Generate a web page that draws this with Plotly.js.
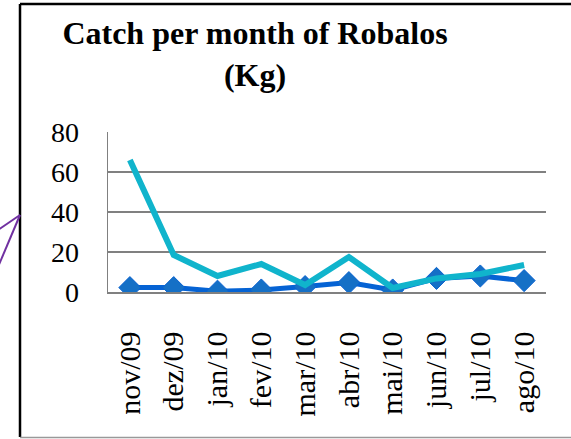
<!DOCTYPE html>
<html>
<head>
<meta charset="utf-8">
<script src="https://cdn.plot.ly/plotly-3.0.1.min.js"></script>
<style>
html,body{margin:0;padding:0;background:#fff;}
#chart{width:571px;height:439px;}
</style>
</head>
<body>
<div id="chart"></div>
<script>
// Data
var months = ["nov/09","dez/09","jan/10","fev/10","mar/10","abr/10","mai/10","jun/10","jul/10","ago/10"];
var seriesDark = [2.2, 2.2, 0.4, 1.0, 2.7, 4.7, 1.0, 6.8, 8.0, 5.7];
var seriesCyan = [66, 18.5, 8, 14, 3.5, 17.5, 2, 6.8, 9, 13.5];
var yTicks = [0, 20, 40, 60, 80];
var yTickText = ["0", "20", "40", "60", "80"];

var W = 571, H = 439;
var M = {l:108, r:25, t:132, b:147};
var PW = W - M.l - M.r, PH = H - M.t - M.b;
function px(x){ return (x - M.l) / PW; }
function py(y){ return (H - M.b - y) / PH; }

var font = "Liberation Serif, Times New Roman, serif";

var traces = [
  {
    x: months, y: seriesDark, type: "scatter", mode: "lines+markers",
    name: "Series 1",
    line: {color: "#0563D4", width: 5},
    marker: {symbol: "diamond", size: 17, color: "#1570C6", line: {color: "#0A62D0", width: 1}}
  },
  {
    x: months, y: seriesCyan, type: "scatter", mode: "lines",
    name: "Series 2",
    line: {color: "#10B4CC", width: 6}
  }
];

var layout = {
  width: W, height: H,
  margin: M,
  paper_bgcolor: "#fff", plot_bgcolor: "#fff",
  showlegend: false,
  font: {family: font, color: "#000"},
  title: {
    text: "<b>Catch per month of Robalos<br>(Kg)</b>",
    font: {family: font, size: 32, color: "#000"},
    x: 255 / W, xanchor: "center", xref: "container",
    y: 1 - 44 / H, yanchor: "top", yref: "container"
  },
  xaxis: {
    type: "category",
    range: [-0.5, 9.5],
    showgrid: false, zeroline: false,
    showline: true, linecolor: "#808080", linewidth: 1.5,
    ticks: "", tickangle: -90,
    tickfont: {family: font, size: 30, color: "#000"},
    ticklabelstandoff: 26,
    fixedrange: true
  },
  yaxis: {
    range: [0, 80],
    tickvals: yTicks, ticktext: yTickText,
    showgrid: true, gridcolor: "#808080", gridwidth: 1.5,
    zeroline: false,
    showline: true, linecolor: "#808080", linewidth: 1.5,
    ticks: "",
    tickfont: {family: font, size: 28, color: "#000"},
    ticklabelstandoff: 22,
    fixedrange: true
  },
  shapes: [
    // outer frame (left, top, bottom)
    {type: "line", xref: "paper", yref: "paper", x0: px(20), x1: px(20), y0: py(4), y1: py(437), line: {color: "#000", width: 2.5}},
    {type: "line", xref: "paper", yref: "paper", x0: px(20), x1: px(580), y0: py(4), y1: py(4), line: {color: "#000", width: 2.5}},
    {type: "line", xref: "paper", yref: "paper", x0: px(20), x1: px(580), y0: py(437.5), y1: py(437.5), line: {color: "#999", width: 1.5}},
    // purple callout lines
    {type: "line", xref: "paper", yref: "paper", x0: px(20), x1: px(-2), y0: py(215), y1: py(230), line: {color: "#7030A0", width: 2}},
    {type: "line", xref: "paper", yref: "paper", x0: px(20), x1: px(-2), y0: py(215), y1: py(267), line: {color: "#7030A0", width: 2}}
  ]
};

Plotly.newPlot("chart", traces, layout, {displayModeBar: false, staticPlot: true});
</script>
</body>
</html>
